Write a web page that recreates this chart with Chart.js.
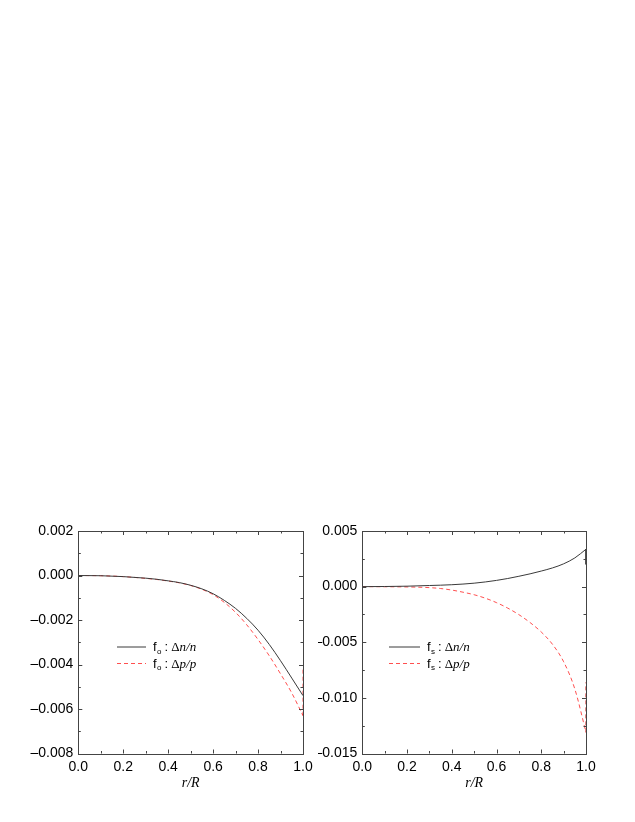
<!DOCTYPE html>
<html>
<head>
<meta charset="utf-8">
<script src="https://cdn.jsdelivr.net/npm/chart.js@4/dist/chart.umd.min.js"></script>
<style>
  html, body { margin: 0; padding: 0; background: #fff; }
  body { width: 635px; height: 822px; position: relative; overflow: hidden; }
  .panel { position: absolute; top: 500px; height: 300px; }
  #p1 { left: 0; width: 318px; }
  #p2 { left: 318px; width: 317px; }
</style>
</head>
<body>
<div class="panel" id="p1"><canvas id="c1"></canvas></div>
<div class="panel" id="p2"><canvas id="c2"></canvas></div>
<script>
// --- дані ---
const rValues = [0, 0.1, 0.2, 0.3, 0.35, 0.4, 0.45, 0.5, 0.55, 0.6, 0.65, 0.7, 0.75, 0.8, 0.85, 0.9, 0.95, 1.0];

// ліва панель: f_o
const foDn = [0, -0.00001, -0.00005, -0.00012, -0.00017, -0.00024, -0.00032, -0.00044, -0.0006, -0.00082, -0.00112, -0.00148, -0.00193, -0.00246, -0.0031, -0.00383, -0.00461, -0.0054];
const foDp = [0, -0.00001, -0.00005, -0.00013, -0.00018, -0.00025, -0.00033, -0.00045, -0.00062, -0.00086, -0.00121, -0.00166, -0.00222, -0.00288, -0.00361, -0.00442, -0.00528, -0.0063];

// права панель: f_s
const fsDn = [0, 0.00001, 0.00004, 0.0001, 0.00013, 0.00017, 0.00023, 0.00031, 0.00042, 0.00056, 0.00073, 0.00093, 0.00115, 0.0014, 0.00168, 0.00205, 0.00258, 0.00336];
const fsDp = [0, -0.00001, -0.00003, -0.00009, -0.00017, -0.00031, -0.0005, -0.00073, -0.00104, -0.00144, -0.00193, -0.00252, -0.00323, -0.00408, -0.00518, -0.00675, -0.0092, -0.0131];

// вертикальні відрізки на краю r/R = 1
const edgeR = [1.0, 1.0];
const foDpEdge = [-0.0063, -0.0041];
const fsDnEdge = [0.00336, 0.002];
const fsDpEdge = [-0.0131, -0.0086];

const xTicks = [0, 0.2, 0.4, 0.6, 0.8, 1.0];
const leftYTicks = [0.002, 0, -0.002, -0.004, -0.006, -0.008];
const rightYTicks = [0.005, 0, -0.005, -0.010, -0.015];

const BLACK = '#3a3a3a';
const RED = 'rgba(255,30,30,0.78)';
const FRAME = '#444';
const DASH = [4, 3];

function pts(xs, ys) { return xs.map((x, i) => ({ x: x, y: ys[i] })); }

// рамка з внутрішніми рисками, підпис осі і легенда
function framePlugin(minor, legend) {
  return {
    id: 'frame',
    afterDraw(chart) {
      const c = chart.ctx, a = chart.chartArea;
      const xs = chart.scales.x, ys = chart.scales.y;
      c.save();
      c.strokeStyle = FRAME;
      c.lineWidth = 1;
      c.strokeRect(Math.round(a.left) + 0.5, Math.round(a.top) + 0.5,
                   Math.round(a.right - a.left), Math.round(a.bottom - a.top));
      const seg = (x1, y1, x2, y2) => { c.beginPath(); c.moveTo(x1, y1); c.lineTo(x2, y2); c.stroke(); };
      for (let k = 0; k <= 10; k++) {
        const px = Math.round(xs.getPixelForValue(k / 10)) + 0.5;
        const len = k % 2 === 0 ? 4 : 2.5;
        seg(px, a.bottom, px, a.bottom - len);
        seg(px, a.top, px, a.top + len);
      }
      const n = Math.round((ys.max - ys.min) / minor);
      for (let k = 0; k <= n; k++) {
        const py = Math.round(ys.getPixelForValue(ys.min + k * minor)) + 0.5;
        const len = k % 2 === 0 ? 4 : 2.5;
        seg(a.left, py, a.left + len, py);
        seg(a.right, py, a.right - len, py);
      }
      // підпис осі r/R
      c.fillStyle = '#000';
      c.font = 'italic 14px "Liberation Serif"';
      c.textAlign = 'center';
      c.textBaseline = 'middle';
      c.fillText('r/R', (a.left + a.right) / 2, a.bottom + 30);
      // легенда
      const rows = [ { color: BLACK, dash: [], text: 'n/n' }, { color: RED, dash: DASH, text: 'p/p' } ];
      rows.forEach((row, i) => {
        const y = legend.y + i * 16.5;
        c.strokeStyle = row.color;
        c.lineWidth = 1;
        c.setLineDash(row.dash);
        seg(legend.x, y + 0.5, legend.x + legend.w, y + 0.5);
        c.setLineDash([]);
        c.textAlign = 'left';
        c.textBaseline = 'alphabetic';
        c.fillStyle = '#000';
        let tx = legend.x + legend.w + 7;
        const base = y + 4.5;
        c.font = '13px "Liberation Sans"';
        c.fillText('f', tx, base); tx += c.measureText('f').width + 0.5;
        c.font = '8px "Liberation Sans"';
        c.fillText(legend.sub, tx, base + 2.5); tx += c.measureText(legend.sub).width + 3;
        c.font = '13px "Liberation Sans"';
        c.fillText(':', tx, base); tx += c.measureText(':').width + 3;
        c.font = '13px "Liberation Serif"';
        c.fillText('\u0394', tx, base); tx += c.measureText('\u0394').width;
        c.font = 'italic 13px "Liberation Serif"';
        c.fillText(row.text, tx, base);
      });
      c.restore();
    }
  };
}

function line(data, color, dash, smooth) {
  return { data: data, borderColor: color, borderWidth: 1, borderDash: dash, pointRadius: 0,
           cubicInterpolationMode: smooth ? 'monotone' : 'default', tension: 0, fill: false };
}

function makeChart(id, sets, yMin, yMax, yTicks, yStep, yw, padRight, legend) {
  return new Chart(document.getElementById(id), {
    type: 'line',
    data: { datasets: sets },
    options: {
      responsive: true, maintainAspectRatio: false, animation: false,
      layout: { padding: { top: 31, right: padRight, left: 0, bottom: 0 } },
      plugins: { legend: { display: false }, tooltip: { enabled: false } },
      scales: {
        x: {
          type: 'linear', min: 0, max: 1,
          afterBuildTicks: s => { s.ticks = xTicks.map(v => ({ value: v })); },
          afterFit: s => { s.height = 46.5; },
          grid: { display: false, drawTicks: false }, border: { display: false },
          ticks: { padding: 5, color: '#000', font: { family: 'Liberation Sans', size: 14 },
                   maxRotation: 0, callback: v => v.toFixed(1) }
        },
        y: {
          type: 'linear', min: yMin, max: yMax,
          afterBuildTicks: s => { s.ticks = yTicks.map(v => ({ value: v })); },
          afterFit: s => { s.width = yw; },
          grid: { display: false, drawTicks: false }, border: { display: false },
          ticks: { padding: 5, color: '#000', font: { family: 'Liberation Sans', size: 14 },
                   callback: v => (v < -1e-9 ? '\u2013' : '') + Math.abs(v).toFixed(3) }
        }
      }
    },
    plugins: [framePlugin(yStep / 2, legend)]
  });
}

makeChart('c1', [
  line(pts(rValues, foDn), BLACK, [], true),
  line(pts(rValues, foDp), RED, DASH, true),
  line(pts(edgeR, foDpEdge), RED, DASH, false)
], -0.008, 0.002, leftYTicks, 0.002, 78.3, 15, { x: 117, y: 146.5, w: 29, sub: 'o' });

makeChart('c2', [
  line(pts(rValues, fsDn), BLACK, [], true),
  line(pts(rValues, fsDp), RED, DASH, true),
  line(pts(edgeR, fsDnEdge), BLACK, [], false),
  line(pts(edgeR, fsDpEdge), 'rgba(200,0,0,0.9)', DASH, false)
], -0.015, 0.005, rightYTicks, 0.005, 44.3, 49, { x: 71, y: 146.5, w: 31, sub: 's' });
</script>
</body>
</html>
